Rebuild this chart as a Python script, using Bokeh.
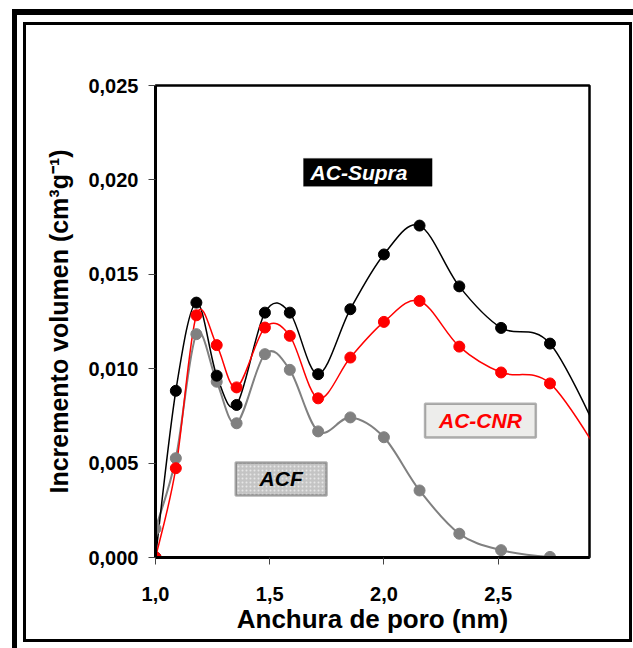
import numpy as np
from bokeh.plotting import figure
from bokeh.models import Range1d, FixedTicker, BoxAnnotation, Label
from bokeh.embed import file_html
from bokeh.resources import INLINE

# ---- data ----
pore_width = [1.000, 1.089, 1.179, 1.268, 1.355, 1.479, 1.588, 1.712, 1.853,
              2.000, 2.156, 2.330, 2.513, 2.727, 2.970]
ac_supra = [0.00000, 0.00883, 0.01350, 0.00963, 0.00808, 0.01297, 0.01297, 0.00971,
            0.01315, 0.01605, 0.01758, 0.01436, 0.01216, 0.01133, 0.00580]
ac_cnr = [0.00000, 0.00473, 0.01283, 0.01125, 0.00901, 0.01218, 0.01174, 0.00843,
          0.01059, 0.01248, 0.01359, 0.01117, 0.00980, 0.00922, 0.00500]
acf = [0.00153, 0.00526, 0.01183, 0.00931, 0.00711, 0.01077, 0.00994, 0.00668,
       0.00742, 0.00637, 0.00355, 0.00126, 0.00039, 0.00003, 0.00000]

x_ticks = [1.0, 1.5, 2.0, 2.5]
x_tick_labels = ["1,0", "1,5", "2,0", "2,5"]
y_ticks = [0.0, 0.005, 0.010, 0.015, 0.020, 0.025]
y_tick_labels = ["0,000", "0,005", "0,010", "0,015", "0,020", "0,025"]

FONT = "Liberation Sans"

# page frames drawn as CSS backgrounds behind a transparent border area
bars = [
    "12px 9px / 5px 650px",     # thick left
    "12px 9px / 640px 6px",     # thick top
    "23px 22px / 3px 620px",    # inner left
    "23px 22px / 609px 3px",    # inner top
    "629px 22px / 3px 620px",   # inner right
    "23px 639px / 609px 3px",   # inner bottom
]
bg = ", ".join("linear-gradient(#000, #000) %s no-repeat" % b for b in bars) + ", #ffffff"

p = figure(width=633, height=648, output_backend="svg", toolbar_location=None,
           x_range=Range1d(1.0, 2.9), y_range=Range1d(0.0, 0.025),
           min_border_left=155, min_border_right=44, min_border_top=85,
           min_border_bottom=91, styles={"background": bg})
p.background_fill_color = "white"
p.border_fill_color = "white"
p.border_fill_alpha = 0
p.outline_line_color = "black"
p.outline_line_width = 2.5
p.xgrid.visible = False
p.ygrid.visible = False

for ax in (p.xaxis[0], p.yaxis[0]):
    ax.axis_line_width = 3
    ax.axis_line_color = "black"
    ax.major_tick_in = 0
    ax.major_tick_out = 7
    ax.major_tick_line_color = "#444444"
    ax.major_tick_line_width = 1
    ax.minor_tick_line_color = None
    ax.major_label_text_font = FONT
    ax.major_label_text_font_style = "bold"
    ax.major_label_text_font_size = "20px"
    ax.major_label_text_color = "black"
    ax.axis_label_text_font = FONT
    ax.axis_label_text_font_style = "bold"
    ax.axis_label_text_color = "black"

p.xaxis.ticker = FixedTicker(ticks=x_ticks)
p.xaxis.major_label_overrides = dict(zip(x_ticks, x_tick_labels))
p.yaxis.ticker = FixedTicker(ticks=y_ticks)
p.yaxis.major_label_overrides = dict(zip(y_ticks, y_tick_labels))
p.xaxis.major_label_standoff = 22
p.yaxis.major_label_standoff = 10
p.xaxis.axis_label = "Anchura de poro (nm)"
p.xaxis.axis_label_text_font_size = "26px"
p.xaxis.axis_label_standoff = 0
p.yaxis.axis_label = "Incremento volumen (cm³g⁻¹)"
p.yaxis.axis_label_text_font_size = "25px"
p.yaxis.axis_label_standoff = 12


def smooth(xs, ys, color, width):
    xs = np.asarray(xs, float)
    ys = np.asarray(ys, float)
    n = len(xs)
    i = np.arange(n - 1)
    i0 = np.maximum(i - 1, 0)
    i3 = np.minimum(i + 2, n - 1)
    p.bezier(x0=xs[i], y0=ys[i], x1=xs[i + 1], y1=ys[i + 1],
             cx0=xs[i] + (xs[i + 1] - xs[i0]) / 6, cy0=ys[i] + (ys[i + 1] - ys[i0]) / 6,
             cx1=xs[i + 1] - (xs[i3] - xs[i]) / 6, cy1=ys[i + 1] - (ys[i3] - ys[i]) / 6,
             line_color=color, line_width=width)


series = [(acf, "#808080", 2), (ac_supra, "black", 1.5), (ac_cnr, "#ff0000", 1.5)]
for ys, col, lw in series:
    smooth(pore_width, ys, col, lw)
for ys, col, lw in series:
    p.scatter(pore_width, ys, size=11, fill_color=col, line_color=col, marker="circle")

# ---- text boxes ----
p.add_layout(BoxAnnotation(left=1.648, right=2.211, bottom=0.01966, top=0.02114,
                           fill_color="black", fill_alpha=1, line_color="black", line_width=1))
p.add_layout(Label(x=1.679, y=0.0204, text="AC-Supra", text_color="white",
                   text_font=FONT, text_font_style="bold italic", text_font_size="21px",
                   text_baseline="middle", text_align="left"))

p.add_layout(BoxAnnotation(left=2.180, right=2.665, bottom=0.00635, top=0.00815,
                           fill_color="#ededeb", fill_alpha=1, line_color="black", line_width=2.5))
p.add_layout(Label(x=2.4225, y=0.00725, text="AC-CNR", text_color="#ff0000",
                   text_font=FONT, text_font_style="bold italic", text_font_size="21px",
                   text_baseline="middle", text_align="center"))

p.add_layout(BoxAnnotation(left=1.351, right=1.749, bottom=0.00329, top=0.00503,
                           fill_color="#c4c4c4", fill_alpha=1, line_color="black", line_width=2.5,
                           hatch_pattern="dot", hatch_color="#e6e6e6", hatch_scale=4,
                           hatch_weight=1))
p.add_layout(Label(x=1.55, y=0.00416, text="ACF", text_color="black",
                   text_font=FONT, text_font_style="bold italic", text_font_size="21px",
                   text_baseline="middle", text_align="center"))

open("out.html", "w").write(file_html(p, INLINE))
